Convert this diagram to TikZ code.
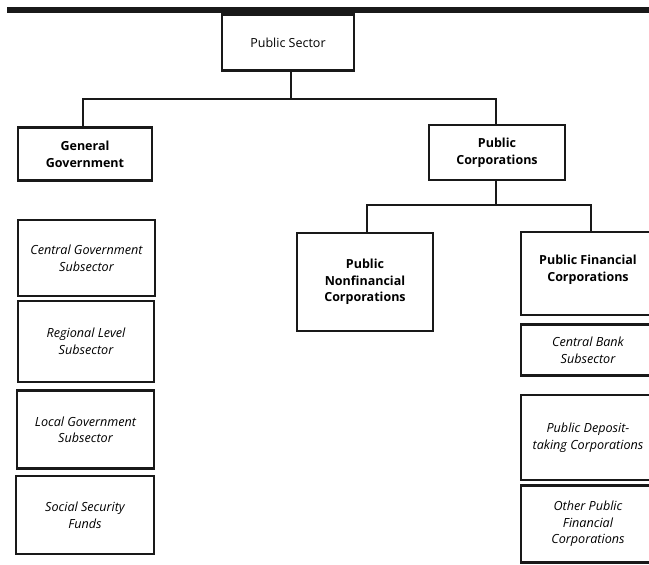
\documentclass[tikz,border=0pt]{standalone}
\usepackage{fontspec}
\setmainfont{Open Sans}
\begin{document}
\begin{tikzpicture}[x=1pt,y=-1pt,
  box/.style={draw=black!90, line width=2.6pt, rectangle, align=center, inner sep=2pt,
    font=\fontsize{12.5}{16.7}\selectfont},
  boldbox/.style={box, font=\fontsize{12.5}{16.7}\selectfont\bfseries},
  itbox/.style={box, font=\fontsize{12.6}{16.7}\selectfont\itshape},
  conn/.style={draw=black!90, line width=1.9pt}]
\useasboundingbox (0,0) rectangle (649,565);
\clip (0,0) rectangle (649,565);
% top bar
\fill[black!90] (7,7) rectangle (660,12.5);
% nodes
\node[box, minimum width=132pt, minimum height=56pt] (ps) at (288,42.5) {Public Sector};
\node[boldbox, minimum width=134pt, minimum height=53pt] (gg) at (85,154) {General\\Government};
\node[boldbox, minimum width=136pt, minimum height=55pt] (pc) at (497,152.5) {Public\\Corporations};
\node[boldbox, minimum width=136pt, minimum height=98pt] (pnc) at (365,282) {Public\\Nonfinancial\\Corporations};
\node[boldbox, minimum width=134pt, minimum height=83pt, text depth=10pt] (pfc) at (588,273.5) {Public Financial\\Corporations};
\node[itbox, minimum width=134pt, minimum height=50.5pt] (cb) at (588,350) {Central Bank\\Subsector};
\node[itbox, minimum width=134pt, minimum height=85pt] (pd) at (588,437.5) {Public Deposit-\\taking Corporations};
\node[itbox, minimum width=134pt, minimum height=77.5pt] (opf) at (588,524) {Other Public\\Financial\\Corporations};
\node[itbox, minimum width=137pt, minimum height=76pt] (cg) at (86.5,258) {Central Government\\Subsector};
\node[itbox, minimum width=136pt, minimum height=81pt] (rl) at (86,341.5) {Regional Level\\Subsector};
\node[itbox, minimum width=137pt, minimum height=78pt] (lg) at (85.5,429.7) {Local Government\\Subsector};
\node[itbox, minimum width=138pt, minimum height=78pt] (ss) at (85,515) {Social Security\\Funds};
% connectors
\coordinate (bus1) at (291,99);
\coordinate (bus2) at (496,205);
\draw[conn] ([xshift=3pt]ps.south) -- (bus1);
\draw[conn] ([xshift=-2pt]gg.north) |- (bus1) -| ([xshift=-1pt]pc.north);
\draw[conn] ([xshift=-1pt]pc.south) -- (bus2);
\draw[conn] ([xshift=2pt]pnc.north) |- (bus2) -| ([xshift=3pt]pfc.north);
\end{tikzpicture}
\end{document}
